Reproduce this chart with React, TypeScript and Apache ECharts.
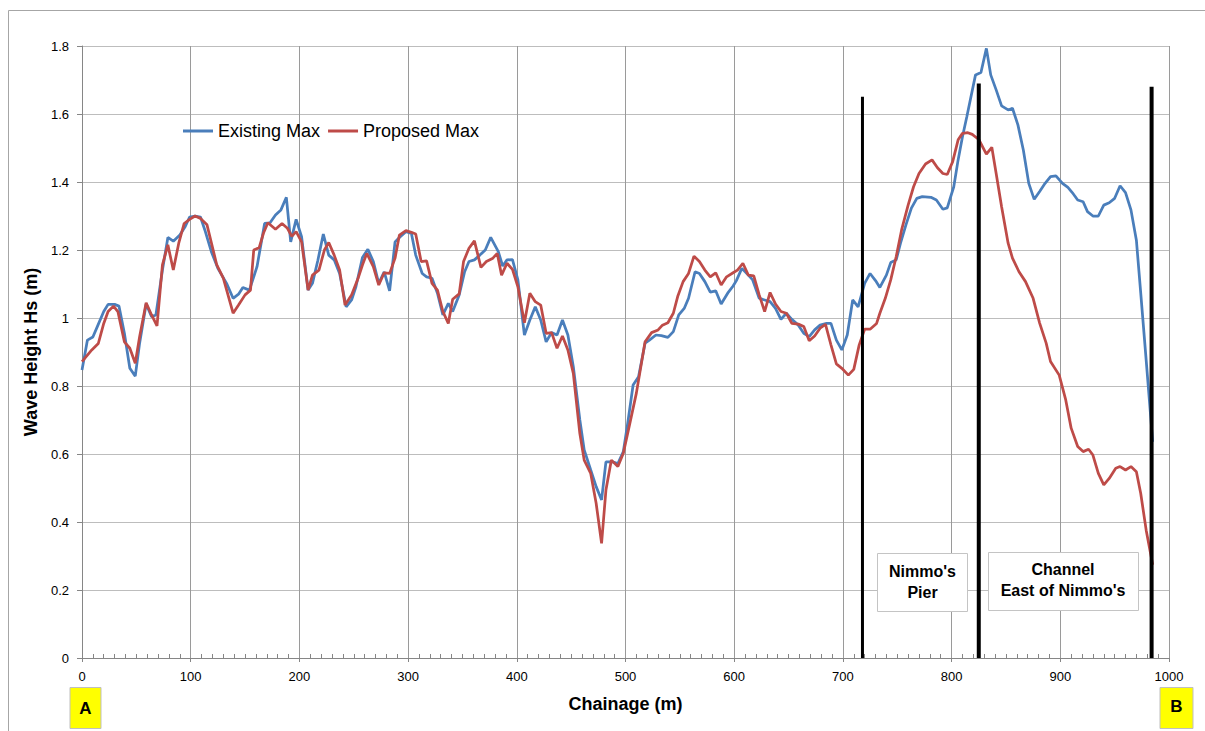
import React, { useEffect, useRef } from "react";
import * as echarts from "echarts";

// Existing Max (blue)
const existingChainage = [0,5,10,14,20,24,30,34,39,44,49,53,59,64,68,74,79,84,90,95,99,104,109,113,119,125,133,139,144,148,154,161,168,173,178,183,188,192,197,202,208,212,217,222,227,232,237,243,248,252,258,263,268,273,278,283,288,292,298,303,307,313,317,322,327,332,337,341,347,352,356,361,366,371,376,383,387,391,396,401,407,412,417,422,427,432,437,442,447,452,458,462,468,473,478,482,488,493,498,502,507,512,518,522,528,533,539,544,549,554,558,564,568,573,578,583,588,594,599,602,607,613,617,623,628,633,638,643,648,653,659,664,669,674,679,685,689,694,699,704,709,714,720,725,730,734,740,744,749,753,758,763,768,773,781,786,792,796,802,806,810,814,822,827,832,836,841,846,852,856,861,866,871,876,881,886,891,896,902,907,911,916,921,925,930,935,940,945,950,955,960,965,970,974,979,985];
const existingHs = [0.847,0.935,0.944,0.974,1.019,1.040,1.040,1.035,0.955,0.852,0.829,0.926,1.041,1.004,1.009,1.141,1.237,1.226,1.244,1.269,1.297,1.300,1.297,1.259,1.195,1.146,1.102,1.058,1.070,1.090,1.082,1.151,1.278,1.280,1.303,1.318,1.355,1.224,1.290,1.239,1.082,1.102,1.170,1.247,1.185,1.171,1.131,1.033,1.053,1.092,1.178,1.202,1.166,1.102,1.136,1.080,1.224,1.237,1.254,1.249,1.185,1.131,1.121,1.117,1.073,1.009,1.043,1.019,1.068,1.136,1.166,1.171,1.185,1.200,1.237,1.195,1.153,1.171,1.172,1.112,0.950,0.994,1.033,0.994,0.930,0.957,0.950,0.994,0.950,0.857,0.700,0.612,0.553,0.504,0.465,0.577,0.577,0.572,0.607,0.690,0.803,0.827,0.926,0.935,0.950,0.948,0.943,0.960,1.009,1.028,1.058,1.136,1.131,1.107,1.076,1.080,1.041,1.073,1.094,1.110,1.146,1.126,1.112,1.058,1.053,1.048,1.028,0.996,1.014,0.996,0.979,0.955,0.945,0.965,0.979,0.984,0.984,0.935,0.906,0.950,1.053,1.033,1.102,1.131,1.110,1.090,1.126,1.163,1.171,1.220,1.274,1.323,1.352,1.357,1.355,1.347,1.320,1.324,1.386,1.465,1.533,1.592,1.715,1.722,1.793,1.715,1.671,1.624,1.612,1.617,1.568,1.494,1.396,1.349,1.372,1.396,1.416,1.418,1.396,1.384,1.369,1.347,1.342,1.313,1.300,1.300,1.332,1.339,1.352,1.389,1.369,1.318,1.229,1.073,0.876,0.636];

// Proposed Max (red)
const proposedChainage = [0,9,15,20,24,29,33,39,44,49,53,59,64,69,74,79,84,89,94,99,104,109,115,124,130,139,144,150,155,158,163,167,171,178,184,189,193,197,202,208,212,218,223,227,232,237,242,248,254,258,262,268,273,278,283,288,292,298,303,307,312,317,322,327,332,337,341,347,351,356,361,367,372,378,382,386,391,396,401,407,412,417,422,427,432,437,442,447,452,458,462,468,473,478,482,487,493,498,504,510,518,524,530,534,539,544,548,553,558,563,568,573,578,583,588,593,599,603,608,613,618,623,628,633,638,643,648,653,659,664,669,674,679,684,689,694,699,705,710,715,720,725,731,734,739,744,749,754,760,765,770,776,782,787,792,796,801,806,810,815,819,825,832,837,841,846,852,856,862,868,875,881,887,891,899,905,910,916,921,926,930,935,940,945,951,955,960,965,970,974,979,985];
const proposedHs = [0.872,0.906,0.925,0.984,1.019,1.035,1.019,0.930,0.911,0.867,0.945,1.045,1.009,0.977,1.156,1.215,1.141,1.220,1.278,1.290,1.300,1.293,1.274,1.156,1.117,1.014,1.038,1.068,1.082,1.200,1.207,1.250,1.280,1.261,1.278,1.264,1.240,1.254,1.224,1.082,1.126,1.141,1.200,1.222,1.185,1.141,1.038,1.068,1.117,1.156,1.190,1.151,1.097,1.133,1.131,1.176,1.244,1.257,1.252,1.247,1.166,1.168,1.102,1.082,1.019,0.984,1.055,1.071,1.166,1.205,1.227,1.149,1.166,1.176,1.190,1.126,1.161,1.143,1.092,0.986,1.073,1.048,1.038,0.955,0.957,0.911,0.947,0.906,0.837,0.660,0.582,0.543,0.455,0.337,0.494,0.582,0.563,0.602,0.690,0.779,0.930,0.957,0.965,0.979,0.986,1.014,1.063,1.107,1.131,1.182,1.166,1.141,1.121,1.133,1.097,1.121,1.133,1.141,1.161,1.126,1.124,1.068,1.019,1.075,1.041,1.019,1.014,0.984,0.982,0.975,0.933,0.947,0.970,0.981,0.921,0.865,0.852,0.832,0.849,0.921,0.967,0.967,0.984,1.014,1.058,1.112,1.180,1.259,1.332,1.386,1.425,1.453,1.465,1.442,1.425,1.422,1.460,1.524,1.543,1.545,1.540,1.525,1.482,1.502,1.425,1.327,1.220,1.176,1.136,1.107,1.058,0.985,0.926,0.872,0.832,0.759,0.676,0.622,0.607,0.614,0.597,0.543,0.509,0.528,0.558,0.563,0.553,0.563,0.548,0.484,0.376,0.274];

// Vertical marker lines (chainage, top value, width)
const markerChainage = [718, 825, 984];
const markerTop = [1.651, 1.69, 1.68];
const markerWidth = [3, 4, 4];

const seriesNames = ["Existing Max", "Proposed Max"];

const FONT = '"Liberation Sans", Arial, sans-serif';

export default function App() {
  const ref = useRef<HTMLDivElement>(null);

  useEffect(() => {
    if (!ref.current) return;
    const chart = echarts.init(ref.current, undefined, { renderer: "svg" });

    const existingData = existingChainage.map((c, i) => [c, existingHs[i]]);
    const proposedData = proposedChainage.map((c, i) => [c, proposedHs[i]]);

    const markerSeries = markerChainage.map((c, i) => ({
      type: "line",
      name: "marker" + i,
      data: [
        [c, 0],
        [c, markerTop[i]],
      ],
      showSymbol: false,
      symbol: "none",
      lineStyle: { color: "#000", width: markerWidth[i] },
      z: 5,
      silent: true,
    }));

    chart.setOption({
      animation: false,
      textStyle: { fontFamily: FONT },
      grid: { left: 82, top: 46, right: 36, bottom: 73, containLabel: false },
      legend: {
        data: seriesNames,
        left: 183,
        top: 122,
        padding: 0,
        icon: "rect",
        itemWidth: 30,
        itemHeight: 3,
        itemGap: 8,
        textStyle: { fontSize: 18, color: "#000", fontFamily: FONT },
      },
      xAxis: [
        {
          type: "value",
          min: 0,
          max: 1000,
          interval: 100,
          name: "Chainage (m)",
          nameLocation: "middle",
          nameGap: 37,
          nameTextStyle: { fontSize: 18, fontWeight: "bold", color: "#000", fontFamily: FONT },
          axisLine: { show: true, onZero: false, lineStyle: { color: "#868686", width: 1 } },
          axisTick: { show: true, length: 4, lineStyle: { color: "#868686" } },
          axisLabel: {
            fontSize: 13,
            color: "#000",
            margin: 12,
            fontFamily: FONT,
            formatter: (v: number) => String(v),
          },
          splitLine: { show: true, lineStyle: { color: "#9a9a9a", width: 1 } },
        },
        {
          type: "value",
          min: 0,
          max: 1000,
          interval: 100,
          position: "bottom",
          axisLine: { show: false },
          axisTick: { show: false, inside: true },
          minorTick: { show: true, splitNumber: 10, length: 4, lineStyle: { color: "#868686" } },
          axisLabel: { show: false },
          splitLine: { show: false },
        },
      ],
      yAxis: {
        type: "value",
        min: 0,
        max: 1.8,
        interval: 0.2,
        name: "Wave Height Hs (m)",
        nameLocation: "middle",
        nameGap: 36,
        nameTextStyle: { fontSize: 18, fontWeight: "bold", color: "#000", fontFamily: FONT },
        axisLine: { show: true, lineStyle: { color: "#868686", width: 1 } },
        axisTick: { show: true, length: 5, lineStyle: { color: "#868686" } },
        axisLabel: { fontSize: 13, color: "#000", margin: 13, fontFamily: FONT },
        splitLine: { show: true, lineStyle: { color: "#bdbdbd", width: 1 } },
      },
      series: [
        {
          type: "line",
          name: seriesNames[0],
          data: existingData,
          showSymbol: false,
          symbol: "none",
          lineStyle: { color: "#4a7ebb", width: 2.75 },
          itemStyle: { color: "#4a7ebb" },
          z: 2,
        },
        {
          type: "line",
          name: seriesNames[1],
          data: proposedData,
          showSymbol: false,
          symbol: "none",
          lineStyle: { color: "#be4b48", width: 2.75 },
          itemStyle: { color: "#be4b48" },
          z: 3,
        },
        ...markerSeries,
      ],
      graphic: [
        {
          type: "rect",
          silent: true,
          z: -1,
          shape: { x: 8.5, y: 10.5, width: 1400, height: 900 },
          style: { fill: "none", stroke: "#a6a6a6", lineWidth: 1 },
        },
        {
          type: "rect",
          z: 10,
          shape: { x: 877.5, y: 553.5, width: 90, height: 58 },
          style: { fill: "#fff", stroke: "#c4c4c4", lineWidth: 1 },
        },
        {
          type: "text",
          z: 11,
          x: 922.5,
          y: 582,
          style: {
            text: "Nimmo's\nPier",
            font: "bold 16px " + FONT,
            fill: "#000",
            align: "center",
            verticalAlign: "middle",
            lineHeight: 21,
          },
        },
        {
          type: "rect",
          z: 10,
          shape: { x: 988.5, y: 552.5, width: 150, height: 58 },
          style: { fill: "#fff", stroke: "#c4c4c4", lineWidth: 1 },
        },
        {
          type: "text",
          z: 11,
          x: 1063,
          y: 580,
          style: {
            text: "Channel\nEast of Nimmo's",
            font: "bold 16px " + FONT,
            fill: "#000",
            align: "center",
            verticalAlign: "middle",
            lineHeight: 21,
          },
        },
        {
          type: "rect",
          z: 10,
          shape: { x: 70, y: 687.5, width: 31, height: 41 },
          style: { fill: "#ffff00", stroke: "#bfbfbf", lineWidth: 1 },
        },
        {
          type: "text",
          z: 11,
          x: 85.5,
          y: 708,
          style: {
            text: "A",
            font: "bold 17px " + FONT,
            fill: "#000",
            align: "center",
            verticalAlign: "middle",
          },
        },
        {
          type: "rect",
          z: 10,
          shape: { x: 1160, y: 687.5, width: 33, height: 41 },
          style: { fill: "#ffff00", stroke: "#bfbfbf", lineWidth: 1 },
        },
        {
          type: "text",
          z: 11,
          x: 1176.5,
          y: 706,
          style: {
            text: "B",
            font: "bold 17px " + FONT,
            fill: "#000",
            align: "center",
            verticalAlign: "middle",
          },
        },
      ],
    });

    return () => {
      chart.dispose();
    };
  }, []);

  return (
    <div
      ref={ref}
      style={{ position: "fixed", left: 0, top: 0, width: 1205, height: 731, background: "#fff" }}
    />
  );
}
